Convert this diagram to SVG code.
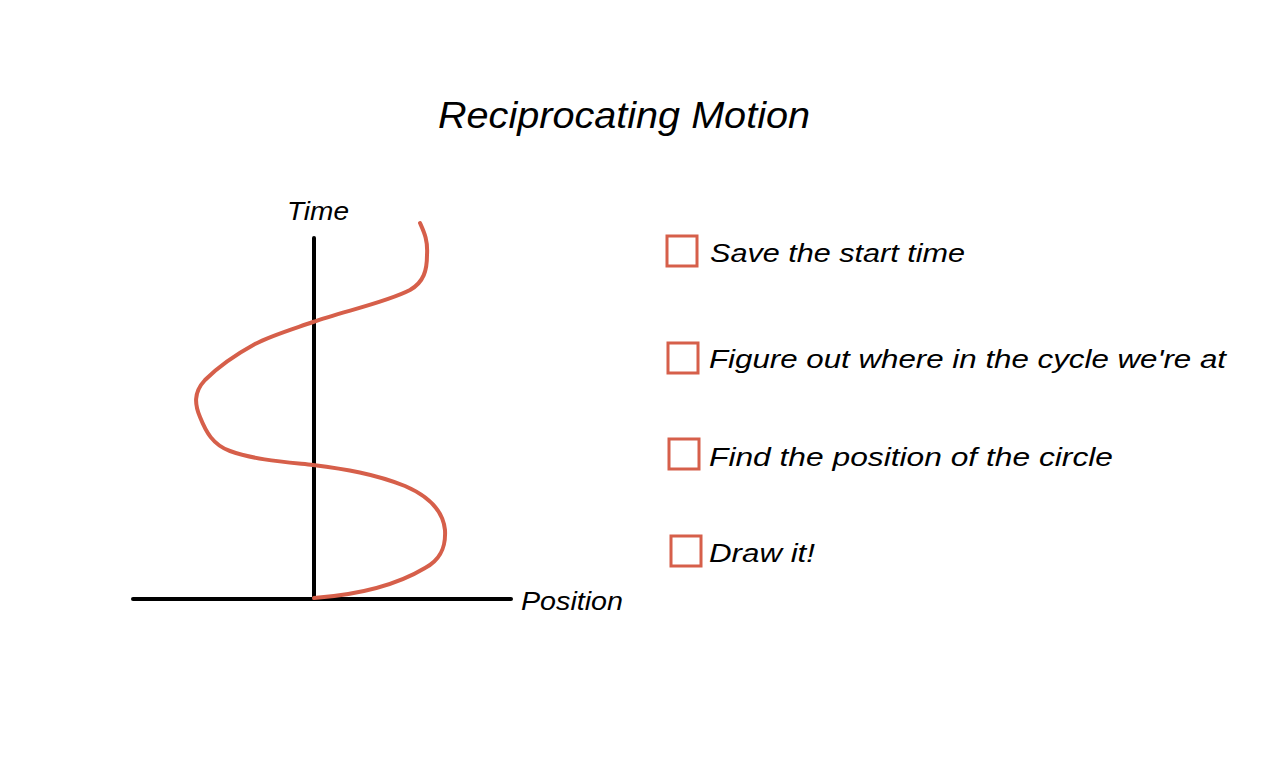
<svg xmlns="http://www.w3.org/2000/svg" width="1280" height="778" viewBox="0 0 1280 778">
<style>
text{font-family:"Liberation Sans","DejaVu Sans",sans-serif;font-style:italic;fill:#000}
.t{font-size:26px}
.box{fill:none;stroke:#d65f4a;stroke-width:3}
.axis{stroke:#000;stroke-width:4;fill:none;stroke-linecap:round}
.wave{stroke:#d65f4a;stroke-width:4;fill:none;stroke-linecap:round;stroke-linejoin:round}
</style>
<rect width="1280" height="778" fill="#fff"/>
<text id="title" x="438" y="128" font-size="37" textLength="372" lengthAdjust="spacingAndGlyphs">Reciprocating Motion</text>
<g id="axes">
<line class="axis" x1="314" y1="238" x2="314" y2="598"/>
<line class="axis" x1="133" y1="599" x2="511" y2="599"/>
<text class="t" x="287" y="220" textLength="62" lengthAdjust="spacingAndGlyphs">Time</text>
<text class="t" x="521" y="610" textLength="102" lengthAdjust="spacingAndGlyphs">Position</text>
</g>
<g id="wave">
<path class="wave" d="M420,223 C424,232 428,240 427,255 C427,270 424,282 410,290 C385,303 340,312 313,322 C290,330 270,336 255,344 C235,355 218,367 205,380 C193,393 195,405 200,417 C206,432 213,445 230,451 C255,460 285,462 313,465 C345,469 375,474 405,486 C428,496 443,510 445,530 C446,548 440,560 425,568 C405,580 370,594 314,598"/>
</g>
<g id="item1">
<rect class="box" x="667" y="236" width="30" height="30"/>
<text class="t" x="710" y="262" textLength="255" lengthAdjust="spacingAndGlyphs">Save the start time</text>
</g>
<g id="item2">
<rect class="box" x="668" y="343" width="30" height="30"/>
<text class="t" x="709" y="368" textLength="517" lengthAdjust="spacingAndGlyphs">Figure out where in the cycle we're at</text>
</g>
<g id="item3">
<rect class="box" x="669" y="439" width="30" height="30"/>
<text class="t" x="709" y="466" textLength="404" lengthAdjust="spacingAndGlyphs">Find the position of the circle</text>
</g>
<g id="item4">
<rect class="box" x="671" y="536" width="30" height="30"/>
<text class="t" x="709" y="562" textLength="106" lengthAdjust="spacingAndGlyphs">Draw it!</text>
</g>
</svg>
